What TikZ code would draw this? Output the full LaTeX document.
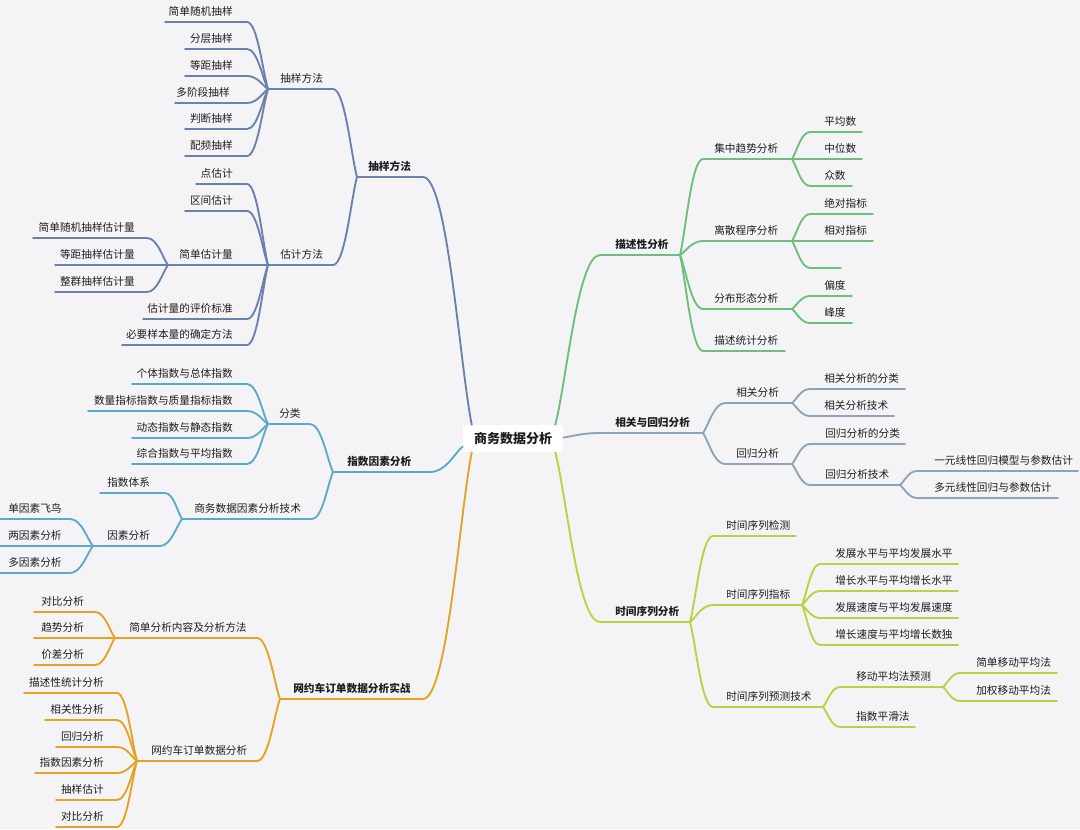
\documentclass[tikz,border=0pt]{standalone}
\usepackage{fontspec}
\setmainfont{Noto Sans CJK SC}
\usetikzlibrary{calc}
\definecolor{bg}{RGB}{244,244,247}
\definecolor{cBlue}{RGB}{107,128,170}
\definecolor{cTeal}{RGB}{92,170,202}
\definecolor{cOrange}{RGB}{230,162,35}
\definecolor{cGreen}{RGB}{110,190,125}
\definecolor{cGray}{RGB}{143,163,182}
\definecolor{cLime}{RGB}{185,210,65}
\definecolor{txt}{RGB}{30,30,30}
\colorlet{br}{cBlue}
% name, x-left, x-right, y, text x, text
\newcommand\tpE[6]{%
  \coordinate (#1-l) at (#2,#4);
  \coordinate (#1-r) at (#3,#4);
  \draw[bar] (#1-l) -- (#1-r);
  \node[lbl,anchor=east] (#1) at (#5,#4-10.5) {#6};}
\newcommand\tpW[6]{%
  \coordinate (#1-l) at (#2,#4);
  \coordinate (#1-r) at (#3,#4);
  \draw[bar] (#1-l) -- (#1-r);
  \node[lbl,anchor=west] (#1) at (#5,#4-10.5) {#6};}
\begin{document}
\begin{tikzpicture}[x=0.75pt,y=-0.75pt,
  bar/.style={draw=br,line width=1.4pt,line cap=round},
  conn/.style={draw=br,line width=1.4pt,line cap=round,
    to path={.. controls ($(\tikztostart)!0.5!(\tikztotarget |- \tikztostart)$) and ($(\tikztotarget)!0.25!(\tikztostart)$) .. (\tikztotarget) \tikztonodes}},
  lbl/.style={inner sep=0pt,font=\fontsize{8}{10}\selectfont,text=txt},
  root/.style={fill=white,rounded corners=2pt,minimum width=75pt,minimum height=20.25pt,inner sep=0pt,font=\fontsize{9.75}{12}\selectfont\bfseries,text=txt}]
\useasboundingbox (0,0) rectangle (1080,829);
\fill[bg] (0,0) rectangle (1080,829);

\node[root] (ctr) at (513,438.5) {商务数据分析};
\coordinate (cNW) at ($(ctr.north west)+(9,0)$);
\coordinate (cNE) at ($(ctr.north east)+(-8,0)$);
\coordinate (cSW) at ($(ctr.south west)+(9,0)$);
\coordinate (cSE) at ($(ctr.south east)+(-8,0)$);
\coordinate (cW) at ($(ctr.west)+(0,8)$);
\coordinate (cE) at ($(ctr.east)+(0,-1)$);

% ---------------- blue: 抽样方法
\begin{scope}
\colorlet{br}{cBlue}
\tpW{sy1}{357}{423}{177}{368}{\bfseries 抽样方法}
\tpW{sy2a}{268}{333}{89}{280}{抽样方法}
\tpW{sy2b}{268}{333}{265}{280}{估计方法}
\tpE{syA1}{165}{247}{22}{233}{简单随机抽样}
\tpE{syA2}{185}{247}{49}{233}{分层抽样}
\tpE{syA3}{185}{247}{76}{233}{等距抽样}
\tpE{syA4}{175}{247}{103}{230}{多阶段抽样}
\tpE{syA5}{185}{247}{129}{233}{判断抽样}
\tpE{syA6}{185}{247}{156}{233}{配频抽样}
\tpE{syB1}{196}{247}{184}{233}{点估计}
\tpE{syB2}{185}{247}{211}{233}{区间估计}
\tpE{syB3}{168}{250}{265}{233}{简单估计量}
\tpE{syB4}{143}{247}{319}{233}{估计量的评价标准}
\tpE{syB5}{122}{247}{345}{233}{必要样本量的确定方法}
\tpE{syC1}{33}{147}{238}{135}{简单随机抽样估计量}
\tpE{syC2}{55}{150}{265}{135}{等距抽样估计量}
\tpE{syC3}{55}{147}{292}{135}{整群抽样估计量}
\draw[conn] (sy1-r) to (cNW);
\draw[conn] (sy2a-r) to (sy1-l);
\draw[conn] (sy2b-r) to (sy1-l);
\foreach \i in {1,...,6} {\draw[conn] (syA\i-r) to (sy2a-l);}
\foreach \i in {1,...,5} {\draw[conn] (syB\i-r) to (sy2b-l);}
\foreach \i in {1,2,3} {\draw[conn] (syC\i-r) to (syB3-l);}
\end{scope}

% ---------------- teal: 指数因素分析
\begin{scope}
\colorlet{br}{cTeal}
\tpW{zs1}{333}{430}{472}{347}{\bfseries 指数因素分析}
\tpW{zs2a}{268}{310}{424}{279}{分类}
\tpW{zs2b}{182}{312}{519}{194}{商务数据因素分析技术}
\tpE{zsA1}{132}{247}{384}{233}{个体指数与总体指数}
\tpE{zsA2}{88}{247}{411}{233}{数量指标指数与质量指标指数}
\tpE{zsA3}{132}{247}{438}{233}{动态指数与静态指数}
\tpE{zsA4}{132}{247}{464}{233}{综合指数与平均指数}
\tpW{zsB1}{100}{165}{493}{107}{指数体系}
\tpW{zsB2}{93}{160}{546}{107}{因素分析}
\tpW{zsC1}{0}{70}{519}{8}{单因素飞鸟}
\tpW{zsC2}{0}{75}{546}{8}{两因素分析}
\tpW{zsC3}{0}{70}{573}{8}{多因素分析}
\draw[conn] (zs1-r) to (cW);
\draw[conn] (zs2a-r) to (zs1-l);
\draw[conn] (zs2b-r) to (zs1-l);
\foreach \i in {1,...,4} {\draw[conn] (zsA\i-r) to (zs2a-l);}
\foreach \i in {1,2} {\draw[conn] (zsB\i-r) to (zs2b-l);}
\foreach \i in {1,2,3} {\draw[conn] (zsC\i-r) to (zsB2-l);}
\end{scope}

% ---------------- orange: 网约车订单数据分析实战
\begin{scope}
\colorlet{br}{cOrange}
\tpW{wy1}{280}{423}{699}{293}{\bfseries 网约车订单数据分析实战}
\tpW{wy2a}{115}{257}{638}{129}{简单分析内容及分析方法}
\tpW{wy2b}{137}{257}{761}{151}{网约车订单数据分析}
\tpW{wyA1}{34}{95}{612}{41}{对比分析}
\tpW{wyA2}{34}{95}{638}{41}{趋势分析}
\tpW{wyA3}{34}{95}{665}{41}{价差分析}
\tpE{wyB1}{24}{117}{693}{104}{描述性统计分析}
\tpE{wyB2}{45}{117}{720}{104}{相关性分析}
\tpE{wyB3}{56}{117}{747}{104}{回归分析}
\tpE{wyB4}{35}{117}{773}{104}{指数因素分析}
\tpE{wyB5}{56}{117}{800}{104}{抽样估计}
\tpE{wyB6}{56}{117}{827}{104}{对比分析}
\draw[conn] (wy1-r) to (cSW);
\draw[conn] (wy2a-r) to (wy1-l);
\draw[conn] (wy2b-r) to (wy1-l);
\foreach \i in {1,2,3} {\draw[conn] (wyA\i-r) to (wy2a-l);}
\foreach \i in {1,...,6} {\draw[conn] (wyB\i-r) to (wy2b-l);}
\end{scope}

% ---------------- green: 描述性分析
\begin{scope}
\colorlet{br}{cGreen}
\tpW{ms1}{600}{680}{255}{615}{\bfseries 描述性分析}
\tpW{ms2a}{703}{792}{159}{714}{集中趋势分析}
\tpW{ms2b}{703}{792}{241}{714}{离散程序分析}
\tpW{ms2c}{703}{792}{309}{714}{分布形态分析}
\tpW{ms2d}{703}{785}{351}{714}{描述统计分析}
\tpW{msA1}{810}{862}{132}{824}{平均数}
\tpW{msA2}{810}{862}{159}{824}{中位数}
\tpW{msA3}{810}{852}{186}{824}{众数}
\tpW{msB1}{810}{873}{214}{824}{绝对指标}
\tpW{msB2}{810}{873}{241}{824}{相对指标}
\tpW{msB3}{810}{841}{268}{824}{}
\tpW{msC1}{810}{852}{296}{824}{偏度}
\tpW{msC2}{810}{852}{323}{824}{峰度}
\draw[conn] (ms1-l) to (cNE);
\foreach \i in {a,b,c,d} {\draw[conn] (ms2\i-l) to (ms1-r);}
\foreach \i in {1,2,3} {\draw[conn] (msA\i-l) to (ms2a-r);}
\foreach \i in {1,2,3} {\draw[conn] (msB\i-l) to (ms2b-r);}
\foreach \i in {1,2} {\draw[conn] (msC\i-l) to (ms2c-r);}
\end{scope}

% ---------------- gray: 相关与回归分析
\begin{scope}
\colorlet{br}{cGray}
\tpW{xg1}{600}{703}{433}{615}{\bfseries 相关与回归分析}
\tpW{xg2a}{725}{792}{403}{736}{相关分析}
\tpW{xg2b}{725}{792}{464}{736}{回归分析}
\tpW{xgA1}{810}{905}{389}{824}{相关分析的分类}
\tpW{xgA2}{810}{894}{416}{824}{相关分析技术}
\tpW{xgB1}{810}{905}{444}{825}{回归分析的分类}
\tpW{xgB2}{810}{900}{485}{825}{回归分析技术}
\tpW{xgC1}{917}{1078}{471}{934}{一元线性回归模型与参数估计}
\tpW{xgC2}{917}{1058}{498}{934}{多元线性回归与参数估计}
\draw[conn] (xg1-l) to (cE);
\foreach \i in {a,b} {\draw[conn] (xg2\i-l) to (xg1-r);}
\foreach \i in {1,2} {\draw[conn] (xgA\i-l) to (xg2a-r);}
\foreach \i in {1,2} {\draw[conn] (xgB\i-l) to (xg2b-r);}
\foreach \i in {1,2} {\draw[conn] (xgC\i-l) to (xgB2-r);}
\end{scope}

% ---------------- lime: 时间序列分析
\begin{scope}
\colorlet{br}{cLime}
\tpW{sj1}{600}{690}{622}{615}{\bfseries 时间序列分析}
\tpW{sj2a}{713}{796}{536}{726}{时间序列检测}
\tpW{sj2b}{713}{802}{605}{726}{时间序列指标}
\tpW{sj2c}{713}{823}{707}{726}{时间序列预测技术}
\tpW{sjA1}{820}{958}{564}{835}{发展水平与平均发展水平}
\tpW{sjA2}{820}{958}{591}{835}{增长水平与平均增长水平}
\tpW{sjA3}{820}{958}{618}{835}{发展速度与平均发展速度}
\tpW{sjA4}{820}{958}{645}{835}{增长速度与平均增长数独}
\tpW{sjB1}{840}{943}{687}{856}{移动平均法预测}
\tpW{sjB2}{840}{915}{727}{856}{指数平滑法}
\tpW{sjC1}{960}{1057}{673}{976}{简单移动平均法}
\tpW{sjC2}{960}{1057}{701}{976}{加权移动平均法}
\draw[conn] (sj1-l) to (cSE);
\foreach \i in {a,b,c} {\draw[conn] (sj2\i-l) to (sj1-r);}
\foreach \i in {1,...,4} {\draw[conn] (sjA\i-l) to (sj2b-r);}
\foreach \i in {1,2} {\draw[conn] (sjB\i-l) to (sj2c-r);}
\foreach \i in {1,2} {\draw[conn] (sjC\i-l) to (sjB1-r);}
\end{scope}
\end{tikzpicture}
\end{document}
